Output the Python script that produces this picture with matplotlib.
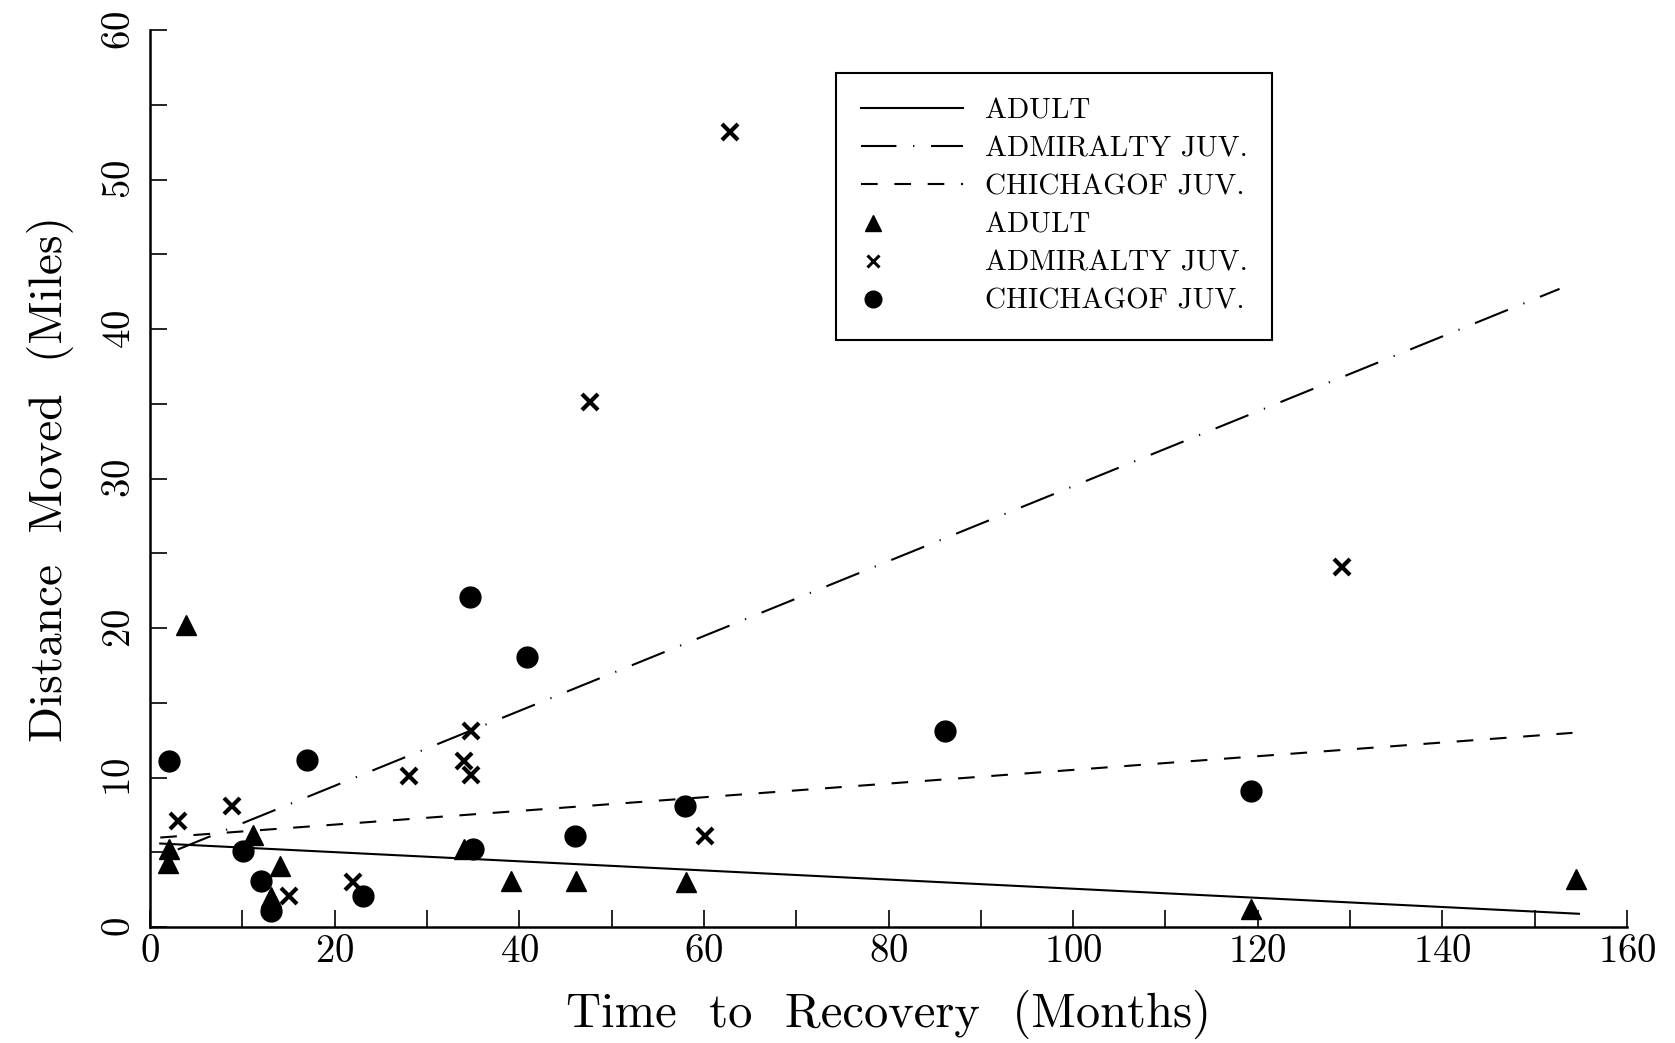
import numpy as np
import matplotlib.pyplot as plt

plt.rcParams['font.family'] = 'cmr10'
plt.rcParams['axes.formatter.use_mathtext'] = True

# scatter data (months, miles)
adult_x = [2.0, 1.9, 3.9, 11.1, 14.1, 13.1, 34.0, 39.1, 46.1, 58.1, 119.3, 154.5]
adult_y = [5.2, 4.3, 20.2, 6.2, 4.1, 2.0, 5.2, 3.1, 3.1, 3.0, 1.2, 3.2]

adm_x = [3.0, 8.9, 15.0, 22.0, 28.0, 34.0, 34.8, 34.8, 47.7, 62.8, 60.1, 129.1]
adm_y = [7.1, 8.1, 2.1, 3.0, 10.1, 11.1, 10.2, 13.1, 35.1, 53.2, 6.1, 24.1]

chi_x = [2.1, 17.0, 10.1, 12.0, 13.1, 23.1, 34.7, 35.0, 40.8, 46.0, 58.0, 86.1, 119.3]
chi_y = [11.1, 11.2, 5.1, 3.1, 1.1, 2.1, 22.1, 5.2, 18.1, 6.1, 8.1, 13.1, 9.1]

# fitted lines, end points
adult_fit_x = [1.1, 154.8]
adult_fit_y = [5.6, 0.9]
adm_fit_x = [3.0, 152.7]
adm_fit_y = [5.2, 42.7]
chi_fit_x = [1.1, 154.1]
chi_fit_y = [6.0, 13.0]

labels = ['ADULT', 'ADMIRALTY JUV.', 'CHICHAGOF JUV.']

fig = plt.figure(figsize=(16.75, 10.43), dpi=100)
ax = fig.add_axes([0.0896, 0.111, 0.8817, 0.860])

ax.plot(adult_fit_x, adult_fit_y, color='k', lw=1.5, label=labels[0])
ax.plot(adm_fit_x, adm_fit_y, color='k', lw=1.5, dashes=(17, 8, 0.6, 8), label=labels[1])
ax.plot(chi_fit_x, chi_fit_y, color='k', lw=1.5, dashes=(8, 8), label=labels[2])
ax.plot(adult_x, adult_y, '^', color='k', ms=15, ls='none', label=labels[0], clip_on=False)
ax.plot(adm_x, adm_y, 'x', color='k', ms=12, mew=3, ls='none', label=labels[1], clip_on=False)
ax.plot(chi_x, chi_y, 'o', color='k', ms=15, ls='none', label=labels[2], clip_on=False)

ax.set_xlim(0, 160)
ax.set_ylim(0, 60)
ax.spines['top'].set_visible(False)
ax.spines['right'].set_visible(False)
ax.spines['left'].set_linewidth(1.8)
ax.spines['bottom'].set_linewidth(1.8)

ax.set_xticks(range(0, 161, 20))
ax.set_xticks(range(10, 160, 20), minor=True)
ax.set_yticks(range(0, 61, 10))
ax.set_yticks(range(5, 60, 10), minor=True)
ax.tick_params(which='both', direction='in', length=12, width=1.2, labelsize=28)
ax.tick_params(axis='x', pad=5)
ax.tick_params(axis='y', pad=9)
for t in ax.get_yticklabels():
    t.set_rotation(90)
    t.set_va('center')

ax.set_xlabel('Time  to  Recovery  (Months)', fontsize=35, labelpad=14)
ax.set_ylabel('Distance  Moved  (Miles)', fontsize=34, labelpad=20)

leg = ax.legend(loc='upper left', bbox_to_anchor=(0.4645, 0.952), borderaxespad=0,
                fontsize=21, handlelength=3.5, labelspacing=0.4, fancybox=False,
                framealpha=1, edgecolor='k', borderpad=0.85, handletextpad=0.75)
leg.get_frame().set_linewidth(1.5)
hs = leg.legend_handles
hs[3].set_markersize(11)
hs[4].set_markersize(8)
hs[4].set_markeredgewidth(2.2)
hs[5].set_markersize(12)
# symbols sit at the left end of the handle, as in the original key
for h in hs[3:]:
    h.set_xdata(np.asarray(h.get_xdata()) - 28)

fig.savefig('out.png', dpi=100)
